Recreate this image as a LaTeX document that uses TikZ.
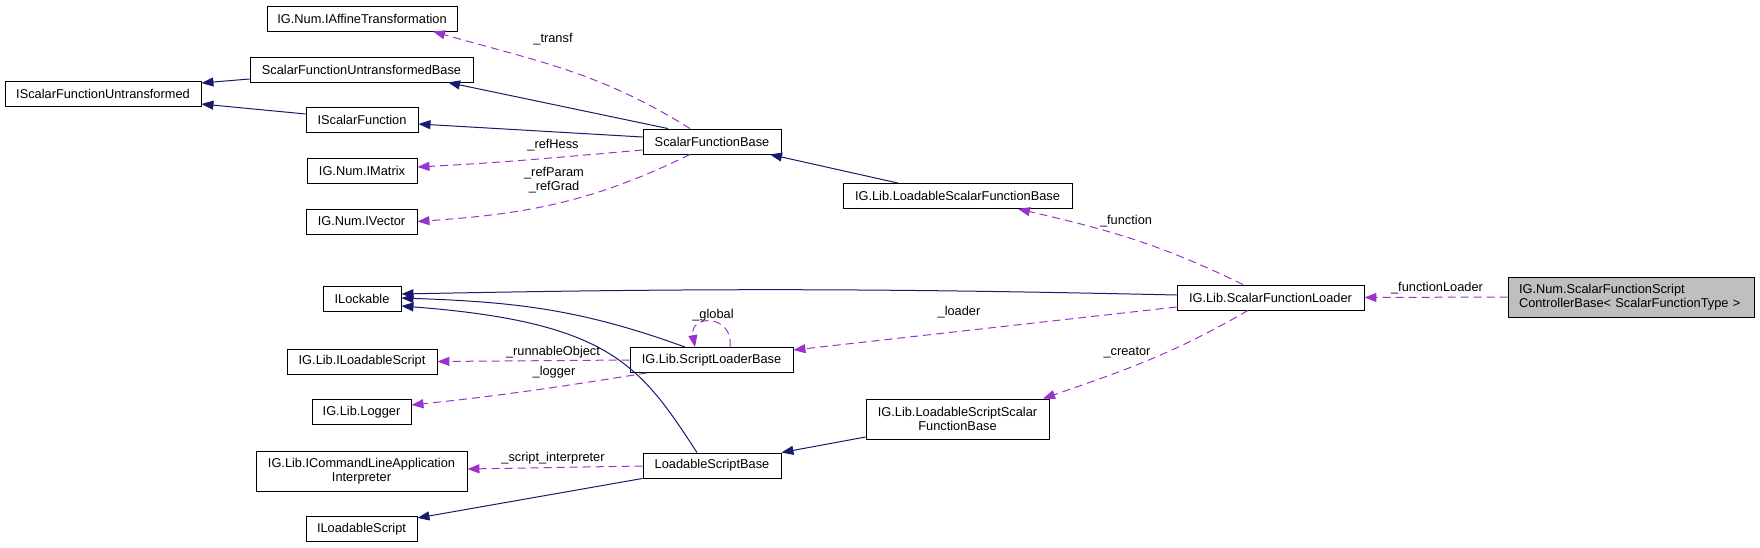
\documentclass[tikz,border=0pt]{standalone}
\usepackage{fontspec}
\setmainfont{Liberation Sans}
\usetikzlibrary{arrows.meta,calc}
\definecolor{inhline}{HTML}{191970}
\definecolor{useline}{HTML}{9A32CD}
\definecolor{focus}{HTML}{BFBFBF}

\begin{document}
\begin{tikzpicture}[
  x=1pt,y=-1pt,
  font=\fontsize{12.8}{14}\selectfont,
  cls/.style={draw=black,line width=0.9pt,fill=white,inner sep=0pt,
              minimum height=25pt,align=center},
  cls2/.style={cls,minimum height=40pt},
  focuscls/.style={cls2,fill=focus,inner xsep=11pt,text width=224pt,align=left},
  inh/.style={draw=inhline,line width=1pt,-{Triangle[length=12pt,width=9pt]}},
  uses/.style={draw=useline,line width=1pt,dash pattern=on 8pt off 5pt,
               -{Triangle[length=12pt,width=9pt]}},
  lbl/.style={inner sep=0pt}]
\useasboundingbox (0,0) rectangle (1760,548);
% classes
\node[cls,minimum width=190pt] (affine) at (362,18.5) {IG.Num.IAffineTransformation};
\node[cls,minimum width=223pt] (sfub) at (361.5,69.5) {ScalarFunctionUntransformedBase};
\node[cls,minimum width=196pt] (isfu) at (103,93.5) {IScalarFunctionUntransformed};
\node[cls,minimum width=112pt] (isf) at (362,120) {IScalarFunction};
\node[cls,minimum width=110pt] (imatrix) at (362,170.5) {IG.Num.IMatrix};
\node[cls,minimum width=111pt] (ivector) at (361.5,221.5) {IG.Num.IVector};
\node[cls,minimum width=138pt] (sfb) at (712,141.5) {ScalarFunctionBase};
\node[cls,minimum width=229pt] (lsfb) at (957.5,196) {IG.Lib.LoadableScalarFunctionBase};
\node[cls,minimum width=78pt] (ilockable) at (362,298.5) {ILockable};
\node[cls,minimum width=150pt] (libscript) at (362,361.5) {IG.Lib.ILoadableScript};
\node[cls,minimum width=99pt] (logger) at (361.5,412) {IG.Lib.Logger};
\node[cls2,minimum width=211pt] (cmdline) at (361.5,471) {IG.Lib.ICommandLineApplication\\Interpreter};
\node[cls,minimum width=111pt] (iloadscript) at (361.5,529) {ILoadableScript};
\node[cls,minimum width=163pt] (slb) at (711.5,360) {IG.Lib.ScriptLoaderBase};
\node[cls,minimum width=138pt] (lsb) at (712,465.5) {LoadableScriptBase};
\node[cls2,minimum width=183pt] (lssfb) at (957.5,419) {IG.Lib.LoadableScriptScalar\\FunctionBase};
\node[cls,minimum width=187pt] (loader) at (1270.5,297.5) {IG.Lib.ScalarFunctionLoader};
\node[focuscls] (ctrl) at (1631,297) {IG.Num.ScalarFunctionScript\\ControllerBase< ScalarFunctionType >};
% inheritance
\draw[inh] ([yshift=-9.5pt]sfub.west) -- ([yshift=10.5pt]isfu.east);
\draw[inh] ([yshift=6pt]isf.west) -- ([yshift=-10.5pt]isfu.east);
\draw[inh] ([xshift=-44pt]sfb.north) -- ([xshift=86.5pt]sfub.south);
\draw[inh] ([yshift=4.5pt]sfb.west) -- ([yshift=-4pt]isf.east);
\draw[inh] ([xshift=-59.5pt]lsfb.north) -- ([xshift=58pt]sfb.south);
\draw[inh] ([yshift=2.5pt]loader.west) to[bend right=1.2] ([yshift=4.5pt]ilockable.east);
\draw[inh] ([xshift=-26.5pt]slb.north) to[out=160,in=-2] ([yshift=0.5pt]ilockable.east);
\draw[inh] ([xshift=-15pt]lsb.north) .. controls (640,365) and (610,322) .. ([yshift=-7.5pt]ilockable.east);
\draw[inh] ([yshift=-18pt]lssfb.west) -- (lsb.north east);
\draw[inh] (lsb.south west) -- ([yshift=11pt]iloadscript.east);
% members
\draw[uses] ([xshift=-22pt]sfb.north) to[out=148,in=-16] ([xshift=71pt]affine.south);
\draw[uses] ([yshift=-8.5pt]sfb.west) to[out=185,in=3] ([yshift=3.5pt]imatrix.east);
\draw[uses] ([xshift=-22pt]sfb.south) to[out=-154,in=4] (ivector.east);
\draw[uses] ([xshift=-27.5pt]loader.north) to[out=154,in=-13] ([xshift=60.5pt]lsfb.south);
\draw[uses] (slb.west) -- (libscript.east);
\draw[uses] ([xshift=-64.5pt]slb.south) to[out=189,in=6] ([yshift=7pt]logger.east);
\draw[uses] ([xshift=18.5pt]slb.north) .. controls +(4,-33) and +(-6,-33) .. ([xshift=-16.5pt]slb.north);
\draw[uses] ([yshift=-9.5pt]loader.west) -- ([yshift=10pt]slb.east);
\draw[uses] ([xshift=-22.5pt]loader.south) to[out=-150,in=19] ([xshift=85.5pt]lssfb.north);
\draw[uses] ([yshift=-0.5pt]lsb.west) -- ([yshift=2pt]cmdline.east);
\draw[uses] (ctrl.west) -- (loader.east);
% labels
\node[lbl] (ltransf) at (553,39) {\_transf};
\node[lbl] (lhess) at (553,145) {\_refHess};
\node[lbl,align=center] (lparam) at (554,180.5) {\_refParam\\\_refGrad};
\node[lbl] (lfunc) at (1126,221) {\_function};
\node[lbl] (lfloader) at (1437,288) {\_functionLoader};
\node[lbl] (lglobal) at (713,315) {\_global};
\node[lbl] (lrunnable) at (553,352) {\_runnableObject};
\node[lbl] (llogger) at (554,372) {\_logger};
\node[lbl] (lloader) at (959,312) {\_loader};
\node[lbl] (lcreator) at (1127,353) {\_creator};
\node[lbl] (lscript) at (553,458) {\_script\_interpreter};
\end{tikzpicture}
\end{document}
